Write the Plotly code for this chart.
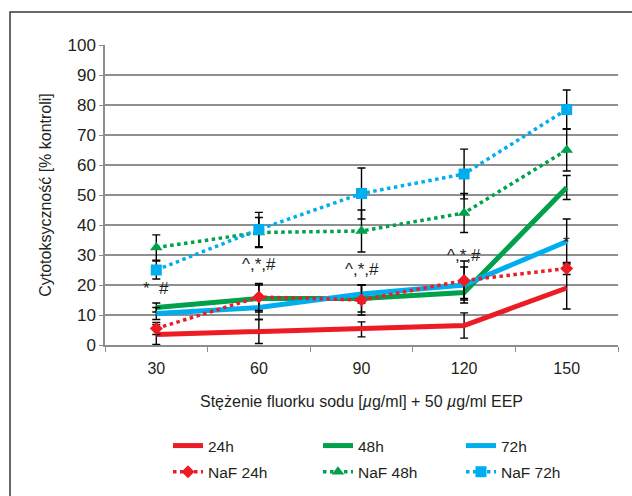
import plotly.graph_objects as go

categories = ["30", "60", "90", "120", "150"]

v24 = [3.5, 4.5, 5.2, 6.5, 19.0]
v48 = [12.5, 15.5, 15.5, 17.5, 52.5]
v72 = [10.5, 12.5, 17.0, 20.0, 34.5]
naf24 = [5.5, 16.0, 15.0, 21.5, 25.5]
naf48 = [32.5, 37.5, 38.0, 44.0, 65.0]
naf72 = [25.0, 38.5, 50.5, 57.0, 78.5]

e24 = [3.3, 4.0, 2.5, 4.2, 7.0]
e48 = [1.5, 4.5, 4.5, 2.0, 4.0]
e72 = [2.0, 4.0, 3.0, 6.0, 7.5]
enaf24 = [2.0, 4.5, 5.0, 6.5, 2.0]
enaf48 = [4.2, 5.0, 7.0, 6.5, 7.0]
enaf72 = [3.0, 5.7, 8.5, 8.3, 6.5]

ann_x = ["30", "60", "90", "120", "150"]
ann_y = [18.7, 27.0, 25.2, 30.0, 34.3]
ann_text = ["*  #", "^,*,#", "^,*,#", "^,*,#", "*"]

RED = "#ED1C24"
GREEN = "#00A14B"
BLUE = "#00AEEF"
TXT = "#231F20"
FONT = "Liberation Sans"

W, H = 632, 496
L, R, T, B = 105, 14, 45, 151
pw, ph = W - L - R, H - T - B

def px_x(p):
    return (p - L) / pw

def px_y(p):
    return (H - B - p) / ph

def err(arr):
    return dict(type="data", array=arr, visible=True, color="#000000",
                thickness=1.4, width=4)

fig = go.Figure()

series = [
    ("24h", v24, e24, RED, "solid", None, "legend"),
    ("48h", v48, e48, GREEN, "solid", None, "legend2"),
    ("72h", v72, e72, BLUE, "solid", None, "legend3"),
    ("NaF 24h", naf24, enaf24, RED, "dot", "diamond", "legend"),
    ("NaF 48h", naf48, enaf48, GREEN, "dot", "triangle-up", "legend2"),
    ("NaF 72h", naf72, enaf72, BLUE, "dot", "square", "legend3"),
]

for name, vals, e, col, dash, sym, lg in series:
    if sym is None:
        fig.add_trace(go.Scatter(
            x=categories, y=vals, name=name, mode="lines", legend=lg,
            legendgroup=name,
            line=dict(color=col, width=5, dash=dash),
            error_y=err(e)))
    else:
        fig.add_trace(go.Scatter(
            x=categories, y=vals, name=name, mode="lines+markers", legend=lg,
            legendgroup=name,
            line=dict(color=col, width=3.5, dash=dash),
            marker=dict(symbol=sym, size=10 if sym == "diamond" else 11, color=col),
            error_y=err(e)))

for xa, ya, t in zip(ann_x, ann_y, ann_text):
    fig.add_annotation(xref="x", yref="y", x=categories.index(xa), y=ya,
                       text=t, showarrow=False,
                       font=dict(family=FONT, size=17, color=TXT))

fig.add_shape(type="rect", xref="paper", yref="paper",
              x0=px_x(10), x1=px_x(W + 40), y0=px_y(H + 40), y1=px_y(12),
              line=dict(color="#3a3a3a", width=1.5), layer="below")

def legend_at(xpix):
    return dict(orientation="v", x=px_x(xpix), y=px_y(429),
                xanchor="left", yanchor="top",
                font=dict(family=FONT, size=15.5, color=TXT),
                tracegroupgap=3, itemwidth=30,
                bgcolor="rgba(0,0,0,0)")

fig.update_layout(
    width=W, height=H,
    margin=dict(l=L, r=R, t=T, b=B, pad=0, autoexpand=False),
    paper_bgcolor="white", plot_bgcolor="white",
    font=dict(family=FONT, size=15, color=TXT),
    showlegend=True,
    legend=legend_at(168),
    legend2=legend_at(318),
    legend3=legend_at(461),
    xaxis=dict(
        type="category", tickson="boundaries", ticks="outside",
        ticklen=5, tickcolor="#8c8c8c", tickwidth=1.2,
        showline=True, linecolor="#8c8c8c", linewidth=1.5,
        showgrid=False, zeroline=False,
        range=[-0.5, 4.5], ticklabelstandoff=8,
        tickfont=dict(family=FONT, size=16, color=TXT),
        title=dict(text="Stężenie fluorku sodu [<i>µ</i>g/ml] + 50 <i>µ</i>g/ml EEP",
                   font=dict(family=FONT, size=16, color=TXT), standoff=20),
    ),
    yaxis=dict(
        range=[0, 100], dtick=10, ticks="outside", ticklen=4,
        tickcolor="#8c8c8c", tickwidth=1.2,
        showline=True, linecolor="#8c8c8c", linewidth=1.5,
        showgrid=True, gridcolor="#8f8f8f", gridwidth=1.5,
        zeroline=False,
        tickfont=dict(family=FONT, size=17, color=TXT),
        title=dict(text="Cytotoksyczność [% kontroli]",
                   font=dict(family=FONT, size=16, color=TXT), standoff=12),
    ),
)

fig.write_html("out.html")
